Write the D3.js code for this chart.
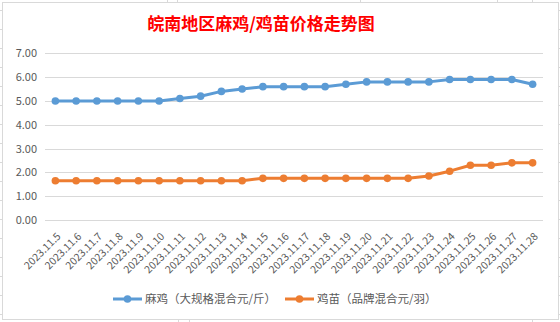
<!DOCTYPE html>
<html><head><meta charset="utf-8">
<script src="https://cdn.jsdelivr.net/npm/d3@7"></script>
<style>html,body{margin:0;padding:0;background:#fff;}svg{display:block;}</style>
</head><body>
<script>
const categories = ["2023.11.5","2023.11.6","2023.11.7","2023.11.8","2023.11.9","2023.11.10","2023.11.11","2023.11.12","2023.11.13","2023.11.14","2023.11.15","2023.11.16","2023.11.17","2023.11.18","2023.11.19","2023.11.20","2023.11.21","2023.11.22","2023.11.23","2023.11.24","2023.11.25","2023.11.26","2023.11.27","2023.11.28"];
const majiValues = [5.0,5.0,5.0,5.0,5.0,5.0,5.1,5.2,5.4,5.5,5.6,5.6,5.6,5.6,5.7,5.8,5.8,5.8,5.8,5.9,5.9,5.9,5.9,5.7];
const jimiaoValues = [1.65,1.65,1.65,1.65,1.65,1.65,1.65,1.65,1.65,1.65,1.75,1.75,1.75,1.75,1.75,1.75,1.75,1.75,1.85,2.05,2.3,2.3,2.4,2.4];
const yTicks = [0,1,2,3,4,5,6,7];
const seriesNames = ["麻鸡（大规格混合元/斤）","鸡苗（品牌混合元/羽）"];
const titleText = "皖南地区麻鸡/鸡苗价格走势图";

const W = 560, H = 322;
const svg = d3.select("body").append("svg").attr("width", W).attr("height", H);
const font = "'Noto Sans CJK SC', 'Microsoft YaHei', sans-serif";

// spreadsheet grid stubs outside frame
const sheet = svg.append("g").attr("stroke", "#d9d9d9").attr("stroke-width", 1);
d3.range(10, H, 19).forEach(y => {
  sheet.append("line").attr("x1", 0).attr("x2", 2).attr("y1", y + 0.5).attr("y2", y + 0.5);
  sheet.append("line").attr("x1", 559).attr("x2", 560).attr("y1", y + 0.5).attr("y2", y + 0.5);
});
[167, 177, 360, 497, 532].forEach(x => {
  sheet.append("line").attr("x1", x + 0.5).attr("x2", x + 0.5).attr("y1", 0).attr("y2", 2);
});
[178, 189, 532].forEach(x => {
  sheet.append("line").attr("x1", x + 0.5).attr("x2", x + 0.5).attr("y1", 320).attr("y2", 322);
});

// frame
svg.append("rect").attr("x", 2.5).attr("y", 2.5).attr("width", 556).attr("height", 317)
  .attr("fill", "#fff").attr("stroke", "#d9d9d9").attr("stroke-width", 1);

// title
svg.append("text").attr("x", 261).attr("y", 30).attr("text-anchor", "middle")
  .attr("font-family", font).attr("font-size", 17).attr("font-weight", "bold")
  .attr("fill", "#ff0000").text(titleText);

const plotL = 45, plotR = 543, plotT = 53.3, plotB = 220;
const x = d3.scaleBand().domain(categories).range([plotL, plotR]);
const y = d3.scaleLinear().domain([0, 7]).range([plotB, plotT]);

// gridlines
svg.append("g").selectAll("line").data(yTicks).join("line")
  .attr("x1", plotL).attr("x2", plotR)
  .attr("y1", d => Math.round(y(d)) + 0.5).attr("y2", d => Math.round(y(d)) + 0.5)
  .attr("stroke", "#d9d9d9").attr("stroke-width", 1);

// y axis labels
const yAxis = d3.axisLeft(y).tickValues(yTicks).tickFormat(d3.format(".2f")).tickSize(0).tickPadding(0);
const yg = svg.append("g").attr("transform", `translate(37,0)`).call(yAxis);
yg.select(".domain").remove();
yg.selectAll("text").attr("font-family", font).attr("font-size", 11).attr("fill", "#595959");

// x axis labels
const cx = d => x(d) + x.bandwidth() / 2;
const xAxis = d3.axisBottom(x).tickSize(0).tickPadding(0);
const xg = svg.append("g").attr("transform", `translate(0,0)`).call(xAxis);
xg.select(".domain").remove();
xg.selectAll(".tick").attr("transform", null);
xg.selectAll(".tick text")
  .attr("font-family", font).attr("font-size", 10.5).attr("fill", "#595959")
  .attr("text-anchor", "end").attr("dy", null).attr("y", null)
  .attr("transform", d => `translate(${cx(d) + 6},${237}) rotate(-45)`);

// lines
const series = [
  {name: seriesNames[0], values: majiValues, color: "#5b9bd5"},
  {name: seriesNames[1], values: jimiaoValues, color: "#ed7d31"}
];
const line = d3.line().x((d, i) => cx(categories[i])).y(d => y(d));
series.forEach(s => {
  svg.append("path").datum(s.values).attr("d", line)
    .attr("fill", "none").attr("stroke", s.color).attr("stroke-width", 3).attr("stroke-linejoin", "round");
  svg.append("g").selectAll("circle").data(s.values).join("circle")
    .attr("cx", (d, i) => cx(categories[i])).attr("cy", d => y(d)).attr("r", 3.8)
    .attr("fill", s.color);
});

// legend
const legendItems = [{x: 113, s: series[0]}, {x: 285, s: series[1]}];
legendItems.forEach(li => {
  const g = svg.append("g").attr("transform", `translate(${li.x},299)`);
  g.append("line").attr("x1", 0).attr("x2", 29).attr("stroke", li.s.color).attr("stroke-width", 3);
  g.append("circle").attr("cx", 14.5).attr("r", 3.8).attr("fill", li.s.color);
  g.append("text").attr("x", 32).attr("y", 0).attr("dy", "0.35em")
    .attr("font-family", font).attr("font-size", 11.5).attr("fill", "#595959").text(li.s.name);
});
</script>
</body></html>
